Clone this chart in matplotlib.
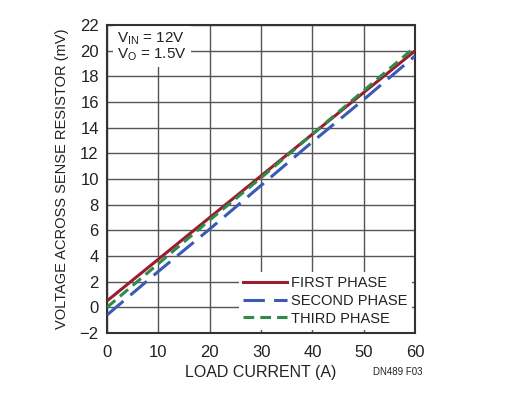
import matplotlib
matplotlib.use("Agg")
import matplotlib.pyplot as plt
from matplotlib import font_manager

# --- Данные ---
load_current = [0, 10, 20, 30, 40, 50, 60]
first_phase = [0.5, 3.75, 7.0, 10.25, 13.5, 16.75, 20.0]
second_phase = [-0.6, 2.8, 6.1, 9.5, 12.9, 16.2, 19.6]
third_phase = [0.0, 3.4, 6.8, 10.1, 13.5, 16.9, 20.3]

x_ticks = [0, 10, 20, 30, 40, 50, 60]
y_ticks = list(range(-2, 23, 2))

# --- Шрифт: узкий, если есть ---
names = {f.name for f in font_manager.fontManager.ttflist}
family = "Liberation Sans Narrow" if "Liberation Sans Narrow" in names else "Liberation Sans"
plt.rcParams["font.family"] = [family, "DejaVu Sans"]

text_color = "#222222"

fig = plt.figure(figsize=(5.15, 3.93), dpi=100)
ax = fig.add_axes([0.208, 0.153, 0.598, 0.783])

ax.plot(load_current, first_phase, color="#9b1b30", lw=2.2, label="FIRST PHASE", zorder=3)
ax.plot(load_current, second_phase, color="#3a5bb5", lw=2.2, dashes=(7, 3),
        label="SECOND PHASE", zorder=3)
ax.plot(load_current, third_phase, color="#2e8b4a", lw=2.2, dashes=(3.5, 2),
        label="THIRD PHASE", zorder=3)

ax.set_xlim(0, 60)
ax.set_ylim(-2, 22)
ax.set_xticks(x_ticks)
ax.set_yticks(y_ticks)
ax.grid(True, color="#555555", lw=1.0, zorder=0)
ax.set_axisbelow(True)
ax.tick_params(length=0, labelsize=12, labelcolor=text_color)
ax.tick_params(axis="x", pad=9)
ax.tick_params(axis="y", pad=6)
for s in ax.spines.values():
    s.set_color("#333333")
    s.set_linewidth(1.5)

ax.set_xlabel("LOAD CURRENT (A)", fontsize=11.5, color=text_color, labelpad=3)
ax.set_ylabel("VOLTAGE ACROSS SENSE RESISTOR (mV)", fontsize=10.5, color=text_color, labelpad=8)

ax.text(2.0, 21.6, "V$_{\\mathregular{IN}}$ = 12V\nV$_{\\mathregular{O}}$ = 1.5V",
        fontsize=11, color=text_color, va="top", ha="left", linespacing=0.95,
        bbox=dict(facecolor="white", edgecolor="none", pad=3), zorder=2)

leg = ax.legend(loc="lower right", fontsize=10.5, handlelength=3.0, handletextpad=0.3,
                labelspacing=0.25, borderaxespad=0.2, frameon=True, fancybox=False,
                framealpha=1, borderpad=0.3)
leg.get_frame().set_edgecolor("none")
leg.get_frame().set_facecolor("white")
for t in leg.get_texts():
    t.set_color(text_color)

fig.text(0.725, 0.045, "DN489 F03", fontsize=7, color=text_color)

fig.savefig("out.png", dpi=100)
